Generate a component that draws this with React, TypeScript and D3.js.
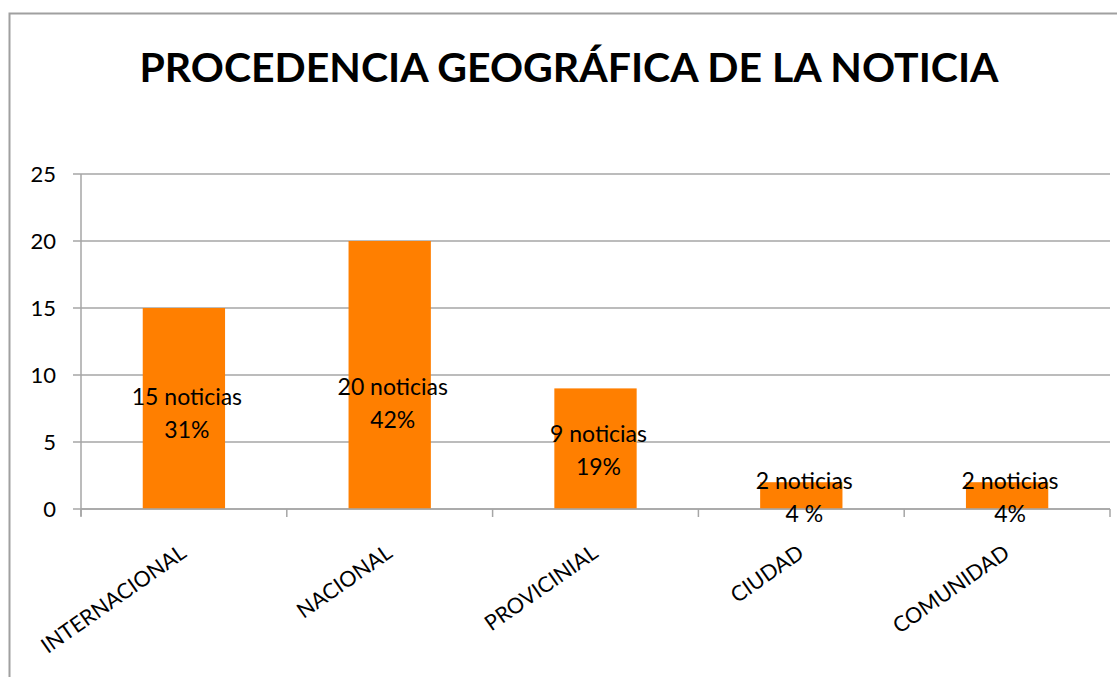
import React from "react";
import * as d3 from "d3";

const title = "PROCEDENCIA GEOGRÁFICA DE LA NOTICIA";
const categories = ["INTERNACIONAL", "NACIONAL", "PROVICINIAL", "CIUDAD", "COMUNIDAD"];
const values = [15, 20, 9, 2, 2];
const countLabels = ["15 noticias", "20 noticias", "9 noticias", "2 noticias", "2 noticias"];
const percentLabels = ["31%", "42%", "19%", "4 %", "4%"];
// value (in axis units) at which each two-line data label is centred
const labelAt = [7.1, 7.8, 4.3, 0.8, 0.8];
const yTicks = [0, 5, 10, 15, 20, 25];

const W = 1117;
const H = 677;
const left = 81;
const right = 1110;
const top = 174;
const bottom = 509;
const FONT = "Lato, 'Open Sans', sans-serif";

export default function App() {
  const x = d3
    .scaleBand<string>()
    .domain(categories)
    .range([left, right])
    .paddingInner(0.6)
    .paddingOuter(0.3);
  const y = d3.scaleLinear().domain([0, 25]).range([bottom, top]);
  const step = x.step();
  const grid = "#a6a6a6";

  return (
    <svg
      width={W}
      height={H}
      style={{ position: "absolute", left: 0, top: 0, background: "#fff" }}
      fontFamily={FONT}
    >
      <rect x={0} y={0} width={W} height={H} fill="#fff" />
      {/* outer frame */}
      <rect x={9.5} y={13.5} width={W + 20} height={H + 20} fill="none" stroke="#a0a0a0" strokeWidth={2} />

      <text x={569} y={82} textAnchor="middle" fontSize={41} fontWeight={700} fill="#000">
        {title}
      </text>

      {/* gridlines and y ticks */}
      {yTicks.map((t) => (
        <g key={t}>
          <line x1={left - 8} x2={right} y1={y(t)} y2={y(t)} stroke={grid} strokeWidth={1.5} />
          <text x={56} y={y(t) + 8} textAnchor="end" fontSize={22} fill="#000">
            {t}
          </text>
        </g>
      ))}
      {/* y axis */}
      <line x1={left} x2={left} y1={top} y2={bottom + 7} stroke={grid} strokeWidth={1.5} />
      {/* x axis ticks */}
      {d3.range(categories.length + 1).map((i) => (
        <line
          key={i}
          x1={left + i * step}
          x2={left + i * step}
          y1={bottom}
          y2={bottom + 8}
          stroke={grid}
          strokeWidth={1.5}
        />
      ))}

      {/* bars */}
      {categories.map((c, i) => (
        <rect
          key={c}
          x={x(c)!}
          y={y(values[i])}
          width={x.bandwidth()}
          height={y(0) - y(values[i])}
          fill="#ff7f00"
        />
      ))}
      <line x1={left} x2={right} y1={bottom} y2={bottom} stroke={grid} strokeWidth={1.5} />

      {/* data labels */}
      {categories.map((c, i) => {
        const cx = x(c)! + x.bandwidth() / 2 + 3;
        const cy = y(labelAt[i]);
        return (
          <text key={c} x={cx} textAnchor="middle" fontSize={23} fill="#000">
            <tspan x={cx} y={cy - 9}>{countLabels[i]}</tspan>
            <tspan x={cx} y={cy + 24}>{percentLabels[i]}</tspan>
          </text>
        );
      })}

      {/* category labels */}
      {categories.map((c) => {
        const cx = x(c)! + x.bandwidth() / 2 + 4;
        return (
          <text
            key={c}
            transform={`translate(${cx},${556}) rotate(-35)`}
            textAnchor="end"
            fontSize={21.5}
            fill="#000"
          >
            {c}
          </text>
        );
      })}
    </svg>
  );
}
